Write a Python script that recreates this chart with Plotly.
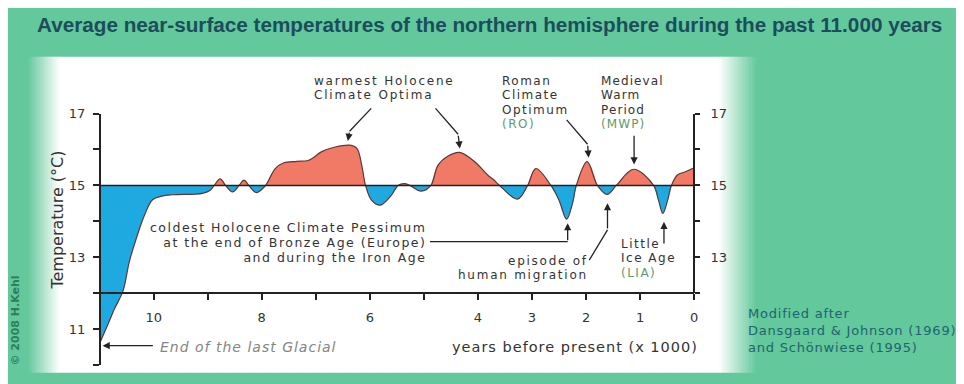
import plotly.graph_objects as go

# ---------------- data ----------------
years_kyr = [11.0, 10.85, 10.72, 10.57, 10.45, 10.32, 10.17, 10.02, 9.85, 9.65,
             9.1, 8.96, 8.88, 8.77, 8.67, 8.54, 8.42, 8.33, 8.24, 8.1,
             7.93, 7.75, 7.59, 7.35, 7.13, 6.89, 6.64, 6.37, 6.24, 6.15,
             6.08, 5.97, 5.81, 5.6, 5.48, 5.36, 5.26, 5.05, 4.87, 4.74,
             4.55, 4.34, 4.06, 3.82, 3.72, 3.6, 3.27, 3.08, 2.93, 2.65,
             2.5, 2.36, 2.25, 2.18, 1.98, 1.79, 1.61, 1.44, 1.12, 0.75,
             0.66, 0.58, 0.49, 0.42, 0.31, 0.16, 0.0]
temp_c = [10.6, 11.12, 11.58, 12.05, 12.88, 13.53, 14.17, 14.6, 14.7, 14.74,
          14.78, 14.86, 15.0, 15.18, 15.0, 14.82, 15.0, 15.15, 15.0, 14.8,
          15.0, 15.47, 15.63, 15.67, 15.7, 15.94, 16.07, 16.12, 16.03, 15.56,
          15.0, 14.59, 14.45, 14.73, 15.0, 15.05, 15.0, 14.84, 15.0, 15.56,
          15.82, 15.92, 15.66, 15.29, 15.17, 15.0, 14.62, 15.0, 15.47, 15.0,
          14.59, 14.06, 14.5, 15.0, 15.66, 15.0, 14.75, 15.0, 15.45, 15.0,
          14.59, 14.22, 14.59, 15.0, 15.29, 15.38, 15.49]
BASELINE = 15.0

x_tick_vals = [10, 9, 8, 7, 6, 5, 4, 3, 2, 1, 0]
x_tick_text = ['10', '', '8', '', '6', '', '4', '3', '2', '1', '0']
y_tick_vals = [10, 11, 12, 13, 14, 15, 16, 17]
y_tick_text = ['', '11', '', '13', '', '15', '', '17']
y2_tick_vals = [12, 13, 14, 15, 16, 17]
y2_tick_text = ['', '13', '', '15', '', '17']

# ---------------- styling ----------------
W, H = 964, 384
GREEN = (99, 200, 155)
WARM = '#f17a66'
COLD = '#1ea9e0'
DARK = '#222222'
TXT = '#333333'
NOTE = '#5e9a70'
FONT = 'DejaVu Sans'

# screen-pixel -> paper fraction (calibrated on the rendered page)
CAL_DX, CAL_DY, CAL_SY = 8.0, 16.6, 0.975

def fx(x):
    return (x - CAL_DX) / W

def fy(y):
    return 1 - (y - CAL_DY) / (CAL_SY * H)

X0, X1 = 100, 697          # screen pixels of the 11 and 0 kyr ends
Y17, Y10 = 114.5, 364.2    # screen pixels of 17 and 10 degC
Y12 = Y17 + (17 - 12) * (Y10 - Y17) / 7

def dx(x):
    return 11 - (x - X0) * 11 / (X1 - X0)

def dy(y):
    return 17 - (y - Y17) * 7 / (Y10 - Y17)

fig = go.Figure()

# split the series into warm / cold lobes at the baseline crossings
lobes = []
cur = [(years_kyr[0], temp_c[0])]
for t, v in zip(years_kyr[1:], temp_c[1:]):
    cur.append((t, v))
    if v == BASELINE:
        lobes.append(cur)
        cur = [(t, v)]
if len(cur) > 1:
    lobes.append(cur)

for lobe in lobes:
    lx = [p[0] for p in lobe]
    ly = [p[1] for p in lobe]
    warm = max(ly) > BASELINE
    fig.add_trace(go.Scatter(x=[lx[0], lx[-1]], y=[BASELINE, BASELINE], mode='lines',
                             line=dict(width=0), showlegend=False, hoverinfo='skip'))
    fig.add_trace(go.Scatter(x=lx, y=ly, mode='lines', line=dict(width=0, shape='spline'),
                             fill='tonexty', fillcolor=WARM if warm else COLD,
                             showlegend=False, hoverinfo='skip'))

fig.add_trace(go.Scatter(x=years_kyr, y=temp_c, mode='lines',
                         line=dict(color='#5a3838', width=1.2, shape='spline'),
                         showlegend=False, hoverinfo='skip'))
fig.add_trace(go.Scatter(x=[11, 0], y=[BASELINE, BASELINE], mode='lines',
                         line=dict(color=DARK, width=1.5), showlegend=False, hoverinfo='skip'))
fig.add_trace(go.Scatter(x=[None], y=[None], yaxis='y2', showlegend=False, hoverinfo='skip'))

# ---------------- background panel with soft edges ----------------
shapes = []
top, bot = 58, 372
shapes.append(dict(type='rect', xref='paper', yref='paper', x0=fx(60), x1=fx(722),
                   y0=fy(bot), y1=fy(top), fillcolor='white', line=dict(width=0), layer='below'))
n = 16
for i in range(n):
    f = (i + 0.5) / n
    c = tuple(int(round(g + (255 - g) * f)) for g in GREEN)
    col = 'rgb(%d,%d,%d)' % c
    xa = 28 + (60 - 28) * i / n
    xb = 28 + (60 - 28) * (i + 1) / n
    shapes.append(dict(type='rect', xref='paper', yref='paper', x0=fx(xa), x1=fx(xb + 0.5),
                       y0=fy(bot), y1=fy(top), fillcolor=col, line=dict(width=0), layer='below'))
    xa = 760 - (760 - 722) * (i + 1) / n
    xb = 760 - (760 - 722) * i / n
    shapes.append(dict(type='rect', xref='paper', yref='paper', x0=fx(xa - 0.5), x1=fx(xb),
                       y0=fy(bot), y1=fy(top), fillcolor=col, line=dict(width=0), layer='below'))

# arrow shafts (screen pixels)
segments = [
    ((372.7, 109.3), (351, 132)),
    ((437.3, 109.3), (460, 135)),
    ((569, 120.7), (590, 145)),
    ((431.7, 241.7), (570, 241.7)),
    ((591.7, 260), (610, 230)),
]
for (a, b) in segments:
    shapes.append(dict(type='line', xref='paper', yref='paper', x0=fx(a[0]), y0=fy(a[1]),
                       x1=fx(b[0]), y1=fy(b[1]), line=dict(color=DARK, width=1.3)))

annotations = []

def arrow(tail, tip):
    annotations.append(dict(x=dx(tip[0]), y=dy(tip[1]), ax=dx(tail[0]), ay=dy(tail[1]),
                            xref='x', yref='y', axref='x', ayref='y', text='', showarrow=True,
                            arrowhead=2, arrowsize=1.1, arrowwidth=1.3, arrowcolor=DARK))

arrow((351, 132), (349.3, 141.7))
arrow((460, 135), (461.7, 149.3))
arrow((590, 145), (591, 158.3))
arrow((636.7, 135), (636.7, 165))
arrow((666.7, 245), (666.7, 222))
arrow((570, 241.7), (570, 223.3))
arrow((610, 230), (610, 203.5))
arrow((155, 345), (103, 345))

def block(lines, x, y, anchor='left', spacing=14.3, size=12, track=1.5, colors=None,
          italic=False):
    parts = []
    for i, ln in enumerate(lines):
        col = colors[i] if colors else TXT
        parts.append('<span style="font-size:%.1fpx;letter-spacing:%.2fpx;color:%s">%s</span>'
                     % (size, track, col, ln))
    annotations.append(dict(x=fx(x), y=fy(y), xref='paper', yref='paper',
                            text='<br>'.join(parts), showarrow=False, align=anchor,
                            xanchor=anchor, yanchor='middle',
                            font=dict(family=FONT, size=spacing / 1.3, color=TXT,
                                      style='italic' if italic else 'normal')))

block(['warmest Holocene', 'Climate Optima'], 313, 88.6, track=1.8)
block(['Roman', 'Climate', 'Optimum', '(RO)'], 501.7, 103, colors=[TXT, TXT, TXT, NOTE])
block(['Medieval', 'Warm', 'Period', '(MWP)'], 601.7, 103, track=1.1,
      colors=[TXT, TXT, TXT, NOTE])
block(['Little', 'Ice Age', '(LIA)'], 621.7, 258.3, colors=[TXT, TXT, NOTE])
block(['coldest Holocene Climate Pessimum', 'at the end of Bronze Age (Europe)',
       'and during the Iron Age'], 430, 243, anchor='right', spacing=14.9, size=12.5,
      track=1.5)
block(['episode of', 'human migration'], 592, 267.5, anchor='right', track=1.75)
block(['End of the last Glacial'], 159, 346, spacing=19, size=14, track=1.0,
      colors=['#858585'], italic=True)
block(['years before present (x 1000)'], 703, 346, anchor='right', spacing=19, size=14.5,
      track=1.0)
block(['Modified after', 'Dansgaard &amp; Johnson (1969)', 'and Schönwiese (1995)'],
      749, 330, spacing=17, size=13, track=0.8, colors=['#1e6470'] * 3)

annotations.append(dict(x=fx(492), y=fy(26), xref='paper', yref='paper', showarrow=False,
                        text='Average near-surface temperatures of the northern hemisphere during the past 11.000 years',
                        xanchor='center', yanchor='middle',
                        font=dict(family='Liberation Sans', size=20.7, color='#1b4d5c', weight='bold')))
annotations.append(dict(x=fx(58), y=fy(220), xref='paper', yref='paper', showarrow=False,
                        text='Temperature (°C)', textangle=-90, xanchor='center', yanchor='middle',
                        font=dict(family=FONT, size=16, color=TXT)))
annotations.append(dict(x=fx(16), y=fy(320), xref='paper', yref='paper', showarrow=False,
                        text='© 2008 H.Kehl', textangle=-90, xanchor='center', yanchor='middle',
                        font=dict(family=FONT, size=11, color='#2d7f5c', weight='bold')))

axis_common = dict(showline=True, linecolor=DARK, linewidth=1.5, ticks='outside',
                   tickcolor=DARK, tickwidth=1.5, showgrid=False, zeroline=False,
                   tickfont=dict(family=FONT, size=13, color=TXT), fixedrange=True)

fig.update_layout(
    width=W, height=H, margin=dict(l=0, r=0, t=0, b=0),
    paper_bgcolor='rgb(%d,%d,%d)' % GREEN, plot_bgcolor='rgba(0,0,0,0)',
    showlegend=False,
    xaxis=dict(domain=[fx(X0), fx(X1)], range=[11, 0], anchor='free', position=fy(Y12),
               side='bottom', tickvals=x_tick_vals, ticktext=x_tick_text, ticklen=6,
               ticklabelstandoff=6, **axis_common),
    yaxis=dict(domain=[fy(Y10), fy(Y17)], range=[10, 17], anchor='free', position=fx(X0),
               side='left', tickvals=y_tick_vals, ticktext=y_tick_text, ticklen=6,
               ticklabelstandoff=5, **axis_common),
    yaxis2=dict(domain=[fy(Y12), fy(Y17)], range=[12, 17], anchor='free', position=fx(X1),
                side='right', tickvals=y2_tick_vals, ticktext=y2_tick_text, ticklen=5,
                ticklabelstandoff=8, **axis_common),
    shapes=shapes, annotations=annotations,
)

fig.write_html('out.html')
